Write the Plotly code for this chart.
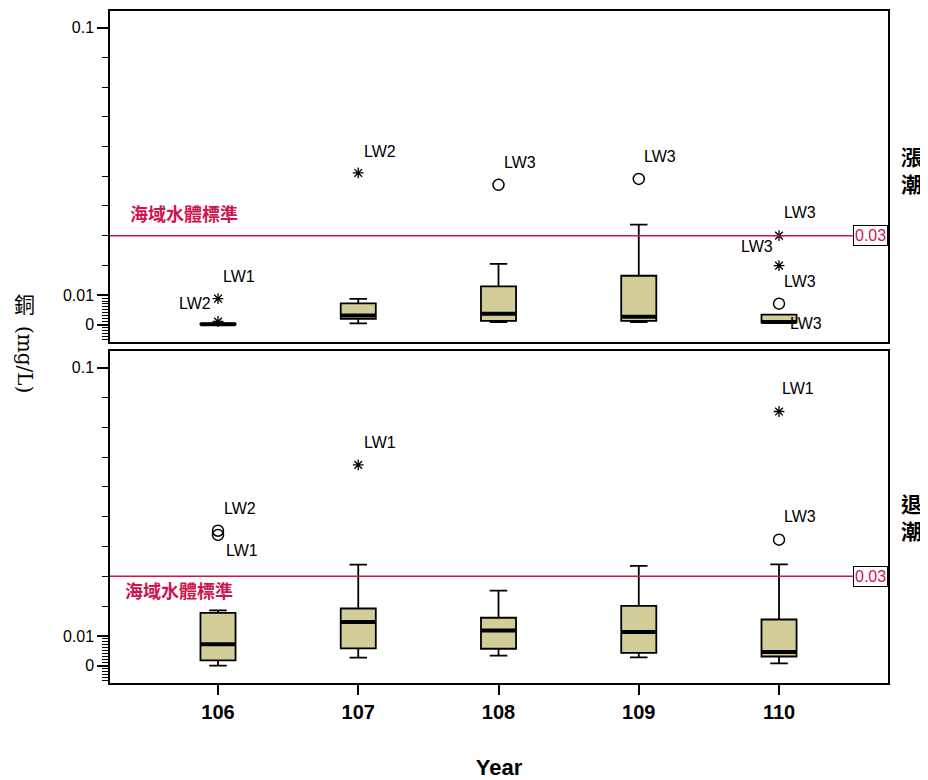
import plotly.graph_objects as go

years = [106, 107, 108, 109, 110]
panels = ["漲潮", "退潮"]

# Box statistics (mg/L) per panel: lower whisker, q1, median, q3, upper whisker
rise_low = [0.0001, 0.0005, 0.0009, 0.0009, 0.0006]
rise_q1 = [0.0001, 0.0020, 0.0013, 0.0013, 0.0008]
rise_med = [0.0002, 0.0031, 0.0037, 0.0027, 0.0009]
rise_q3 = [0.0004, 0.0072, 0.0129, 0.0165, 0.0034]
rise_high = [0.0005, 0.0087, 0.0205, 0.0337, 0.0034]

ebb_low = [0.0000, 0.0027, 0.0034, 0.0028, 0.0008]
ebb_q1 = [0.0018, 0.0058, 0.0057, 0.0043, 0.0031]
ebb_med = [0.0072, 0.0147, 0.0118, 0.0113, 0.0046]
ebb_q3 = [0.0177, 0.0192, 0.0161, 0.0201, 0.0155]
ebb_high = [0.0186, 0.0339, 0.0252, 0.0335, 0.0340]

# Outliers: year, value, kind ("far" = star, "out" = circle), label
rise_out_year = [106, 106, 107, 108, 109, 110, 110, 110]
rise_out_val = [0.0088, 0.0011, 0.0511, 0.0471, 0.0491, 0.0300, 0.0199, 0.0071]
rise_out_kind = ["far", "far", "far", "out", "out", "far", "far", "out"]
rise_out_label = ["LW1", "LW2", "LW2", "LW3", "LW3", "LW3", "LW3", "LW3"]

ebb_out_year = [106, 106, 107, 110, 110]
ebb_out_val = [0.0453, 0.0439, 0.0674, 0.0423, 0.0853]
ebb_out_kind = ["out", "out", "far", "out", "far"]
ebb_out_label = ["LW2", "LW1", "LW1", "LW3", "LW1"]

standard_value = 0.03
standard_name = "海域水體標準"
y_tick_vals = [0, 0.01, 0.1]
y_tick_text = ["0", "0.01", "0.1"]

# label offsets in pixels (layout only)
rise_label_shift = [(21, 22), (-23, 18), (22, 21), (21, 22), (21, 22), (21, 23), (-22, 19), (21, 22)]
ebb_label_shift = [(22, 22), (24, -16), (22, 22), (21, 23), (19, 23)]

BOX_FILL = "#D3CE98"
RED = "#D0144E"
FONT = "Liberation Sans, Arial, sans-serif"
CJK = "Noto Sans CJK TC, Noto Sans CJK SC, sans-serif"
SERIF = "DejaVu Serif, Liberation Serif, serif"
BW = 0.25

fig = go.Figure()

panel_data = [
    (rise_low, rise_q1, rise_med, rise_q3, rise_high, rise_out_year, rise_out_val, rise_out_kind, rise_out_label, rise_label_shift),
    (ebb_low, ebb_q1, ebb_med, ebb_q3, ebb_high, ebb_out_year, ebb_out_val, ebb_out_kind, ebb_out_label, ebb_label_shift),
]
facet_y = [0.7648, 0.2485]

annotations = []
shapes = []
for i, (lo, q1, med, q3, hi, oy, ov, ok, ol, shifts) in enumerate(panel_data):
    xa = "x" if i == 0 else "x2"
    ya = "y" if i == 0 else "y2"
    fig.add_trace(go.Box(
        x=years, lowerfence=lo, q1=q1, median=med, q3=q3, upperfence=hi,
        xaxis=xa, yaxis=ya, width=BW, whiskerwidth=0.5,
        fillcolor=BOX_FILL, line=dict(color="black", width=1.8),
        boxpoints=False, showlegend=False, hoverinfo="skip",
    ))
    # thick median bars
    mx, my = [], []
    for yr, m in zip(years, med):
        mx += [yr - BW / 2, yr + BW / 2, None]
        my += [m, m, None]
    fig.add_trace(go.Scatter(x=mx, y=my, mode="lines", xaxis=xa, yaxis=ya,
                             line=dict(color="black", width=4), showlegend=False, hoverinfo="skip"))
    # outliers
    for kind, sym, size, lw in [("far", "asterisk-open", 9, 1.3), ("out", "circle-open", 11, 1.5)]:
        xs = [x for x, k in zip(oy, ok) if k == kind]
        vs = [v for v, k in zip(ov, ok) if k == kind]
        fig.add_trace(go.Scatter(x=xs, y=vs, mode="markers", xaxis=xa, yaxis=ya,
                                 marker=dict(symbol=sym, size=size, color="black",
                                             line=dict(color="black", width=lw)),
                                 showlegend=False, hoverinfo="skip"))
    for x, v, lab, (dx, dy) in zip(oy, ov, ol, shifts):
        annotations.append(dict(x=x, y=v, xref=xa, yref=ya, text=lab, showarrow=False,
                                xshift=dx, yshift=dy, font=dict(family=FONT, size=16, color="black")))
    # standard line
    shapes.append(dict(type="line", xref=f"{xa} domain", yref=ya, x0=0, x1=1,
                       y0=standard_value, y1=standard_value, line=dict(color=RED, width=1.5)))
    annotations.append(dict(x=1, y=standard_value, xref=f"{xa} domain", yref=ya, text="0.03",
                            showarrow=False, xanchor="right", yanchor="middle",
                            bgcolor="white", bordercolor="black", borderwidth=1, borderpad=1,
                            font=dict(family=FONT, size=16, color=RED)))
    annotations.append(dict(x=0.0231 if i == 0 else 0.0167, y=standard_value, xref=f"{xa} domain", yref=ya,
                            text=f"<b>{standard_name}</b>", showarrow=False, xanchor="left",
                            yanchor="middle", yshift=23 if i == 0 else -14,
                            font=dict(family=CJK, size=18, color=RED)))
    annotations.append(dict(x=1.0308, y=facet_y[i], xref="paper", yref="paper",
                            text="<b>" + "<br>".join(panels[i]) + "</b>", showarrow=False,
                            xanchor="center", yanchor="middle", align="center",
                            font=dict(family=CJK, size=21, color="black")))

# extra label next to 110 (漲潮) box
annotations.append(dict(x=years[4], y=rise_q1[4], xref="x", yref="y", text="LW3", showarrow=False,
                        xshift=27, yshift=-1, font=dict(family=FONT, size=16, color="black")))

# y axis title: 銅 upright, (mg/L) rotated
annotations.append(dict(x=-0.1093, y=0.5653, xref="paper", yref="paper", text="銅", showarrow=False,
                        xanchor="center", yanchor="middle",
                        font=dict(family=CJK, size=21, color="black")))
annotations.append(dict(x=-0.1093, y=0.4807, xref="paper", yref="paper", text="(mg/L)", showarrow=False,
                        xanchor="center", yanchor="middle",
                        textangle=90, font=dict(family=SERIF, size=20, color="black")))

minor_vals = [round(-0.005 + 0.001 * k, 4) for k in range(15)] + [round(0.01 * k, 2) for k in range(2, 10)]

yaxis_common = dict(range=[-0.0058, 0.1056], tickmode="array", tickvals=y_tick_vals, ticktext=y_tick_text,
                    ticks="outside", ticklen=11, tickwidth=1.5, tickcolor="black",
                    showline=True, linecolor="black", linewidth=1.5, mirror=True,
                    showgrid=False, zeroline=False,
                    tickfont=dict(family=FONT, size=16, color="black"),
                    minor=dict(tickmode="array", tickvals=minor_vals, ticks="outside", ticklen=6,
                               tickwidth=1.2, tickcolor="black", showgrid=False))
xaxis_common = dict(range=[105.23, 110.777], showline=True, linecolor="black", linewidth=1.5,
                    mirror=True, showgrid=False, zeroline=False, tickmode="array", tickvals=years)

fig.update_layout(
    width=920, height=772, plot_bgcolor="white", paper_bgcolor="white",
    margin=dict(l=102, r=40, t=1, b=97),
    annotations=annotations, shapes=shapes,
    xaxis=dict(**xaxis_common, anchor="y", showticklabels=False, ticks=""),
    xaxis2=dict(**xaxis_common, anchor="y2", matches="x", ticks="outside", ticklen=10, tickwidth=1.5,
                tickcolor="black", ticktext=[f"<b>{y}</b>" for y in years],
                tickfont=dict(family=FONT, size=20, color="black"),
                title=dict(text="<b>Year</b>", font=dict(family=FONT, size=22, color="black"), standoff=38)),
    yaxis=dict(**yaxis_common, domain=[0.5074, 1.0], anchor="x"),
    yaxis2=dict(**yaxis_common, domain=[0.0, 0.494], anchor="x2"),
)

fig.write_html("out.html")
